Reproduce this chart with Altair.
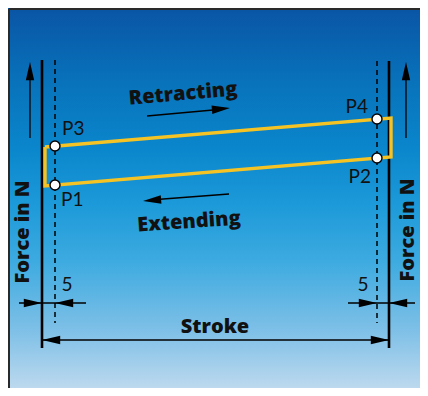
import altair as alt
import pandas as pd

# Diagram coordinate system (units = reference pixels)
X_DOM = [8, 420]
Y_DOM = [8, 388]
W, H = 412, 380

# Background gradient colours (top -> bottom)
grad_colors = ["#0a55a5", "#0873bb", "#0a86cc", "#1d9ad9", "#3eabe0", "#7fc0e7", "#bcd9ee"]
grad_offsets = [0.0, 0.2, 0.37, 0.52, 0.67, 0.85, 1.0]

# Frame border (left and top)
frame_x = [9, 9]
frame_y = [9, 9]
frame_x2 = [9, 420]
frame_y2 = [388, 9]

# Solid end-position lines
solid_x = [42, 389]
solid_top = [60, 61]
solid_bot = [348, 348]

# Dashed lines (5 mm inside)
dash_x = [55, 377]
dash_top = [60, 61]
dash_bot = [323, 323]

# Arrow shafts
shaft_x1 = [30, 406, 147, 229, 19, 348, 42]
shaft_y1 = [70, 70, 116, 194, 303, 303, 340]
shaft_x2 = [30, 406, 224, 150, 86, 415, 389]
shaft_y2 = [138, 138, 109, 200, 303, 303, 340]

# Arrowheads: tip position and direction (deg clockwise from up)
head_x = [30, 406, 230, 143, 42, 55, 377, 389, 42, 389]
head_y = [62, 62, 108, 201, 303, 303, 303, 303, 340, 340]
head_dir = [0, 0, 84.5, 265.3, 90, 270, 90, 270, 270, 90]

# Force curve (yellow loop)
loop_x = [45, 391, 391, 45, 45]
loop_y = [147, 118, 157, 186, 147]

# Points P1..P4
pt_names = ["P1", "P2", "P3", "P4"]
pt_x = [55, 377, 55, 377]
pt_y = [185, 158, 146, 119]

# Point labels (left-aligned and right-aligned)
labL_text = ["P1", "P3"]
labL_x = [61, 62]
labL_y = [200, 129]
labR_text = ["P2", "P4"]
labR_x = [371, 368]
labR_y = [177, 107]

# Bold labels
big_text = ["Retracting", "Extending", "Stroke", "Force in N", "Force in N"]
big_x = [183, 189, 215, 23, 408]
big_y = [94, 222, 327, 232, 230]
big_angle = [355, 356, 0, 270, 270]

# Dimension numbers
num_text = ["5", "5"]
num_x = [67, 363]
num_y = [285, 285]

xs = alt.Scale(domain=X_DOM, nice=False, zero=False)
ys = alt.Scale(domain=Y_DOM, reverse=True, nice=False, zero=False)

def X(f="x"):
    return alt.X(f + ":Q", scale=xs, axis=None)

def Y(f="y"):
    return alt.Y(f + ":Q", scale=ys, axis=None)

grad = alt.Gradient(
    gradient="linear",
    stops=[alt.GradientStop(color=c, offset=o) for c, o in zip(grad_colors, grad_offsets)],
    x1=0, x2=0, y1=0, y2=1,
)

bg = alt.Chart(pd.DataFrame({"x": [X_DOM[0]], "x2": [X_DOM[1]], "y": [Y_DOM[0]], "y2": [Y_DOM[1]]})).mark_rect(
    fill=grad
).encode(x=X(), x2="x2:Q", y=Y(), y2="y2:Q")

frame = alt.Chart(pd.DataFrame({"x": frame_x, "y": frame_y, "x2": frame_x2, "y2": frame_y2})).mark_rule(
    color="#2a2a2a", strokeWidth=2
).encode(x=X(), y=Y(), x2="x2:Q", y2="y2:Q")

solid = alt.Chart(pd.DataFrame({"x": solid_x, "y": solid_top, "y2": solid_bot})).mark_rule(
    color="#000000", strokeWidth=2.6
).encode(x=X(), y=Y(), y2="y2:Q")

dashed = alt.Chart(pd.DataFrame({"x": dash_x, "y": dash_top, "y2": dash_bot})).mark_rule(
    color="#000000", strokeWidth=1.5, strokeDash=[5, 4]
).encode(x=X(), y=Y(), y2="y2:Q")

shafts = alt.Chart(pd.DataFrame({"x": shaft_x1, "y": shaft_y1, "x2": shaft_x2, "y2": shaft_y2})).mark_rule(
    color="#000000", strokeWidth=1.3
).encode(x=X(), y=Y(), x2="x2:Q", y2="y2:Q")

heads = alt.Chart(pd.DataFrame({"x": head_x, "y": head_y, "a": head_dir})).mark_point(
    shape="M0,0L0.46,2L-0.46,2Z", filled=True, color="#000000", opacity=1, size=330, strokeWidth=0
).encode(x=X(), y=Y(), angle=alt.Angle("a:Q", scale=None))

loop = alt.Chart(pd.DataFrame({"x": loop_x, "y": loop_y, "o": list(range(len(loop_x)))})).mark_line(
    color="#f6c324", strokeWidth=3.4, strokeJoin="miter"
).encode(x=X(), y=Y(), order="o:O")

points = alt.Chart(pd.DataFrame({"x": pt_x, "y": pt_y, "n": pt_names})).mark_point(
    shape="circle", filled=True, fill="#ffffff", stroke="#000000", strokeWidth=1.4, size=100, opacity=1
).encode(x=X(), y=Y())

labelsL = alt.Chart(pd.DataFrame({"x": labL_x, "y": labL_y, "t": labL_text})).mark_text(
    font="Lato", fontSize=19, color="#111111", baseline="middle", align="left"
).encode(x=X(), y=Y(), text="t:N")

labelsR = alt.Chart(pd.DataFrame({"x": labR_x, "y": labR_y, "t": labR_text})).mark_text(
    font="Lato", fontSize=19, color="#111111", baseline="middle", align="right"
).encode(x=X(), y=Y(), text="t:N")

big = alt.Chart(pd.DataFrame({"x": big_x, "y": big_y, "t": big_text, "a": big_angle})).mark_text(
    font="Open Sans", fontWeight=800, fontSize=20, color="#111111", baseline="middle", align="center"
).encode(x=X(), y=Y(), text="t:N", angle=alt.Angle("a:Q", scale=None))

nums = alt.Chart(pd.DataFrame({"x": num_x, "y": num_y, "t": num_text})).mark_text(
    font="Lato", fontSize=19, color="#111111", baseline="middle", align="center"
).encode(x=X(), y=Y(), text="t:N")

chart = alt.layer(bg, frame, solid, dashed, loop, shafts, heads, points, labelsL, labelsR, big, nums).properties(
    width=W, height=H, autosize=alt.AutoSizeParams(type="none"), padding=0
).configure_view(stroke=None)

chart.save("out.html", embed_options={"renderer": "svg", "actions": False})
